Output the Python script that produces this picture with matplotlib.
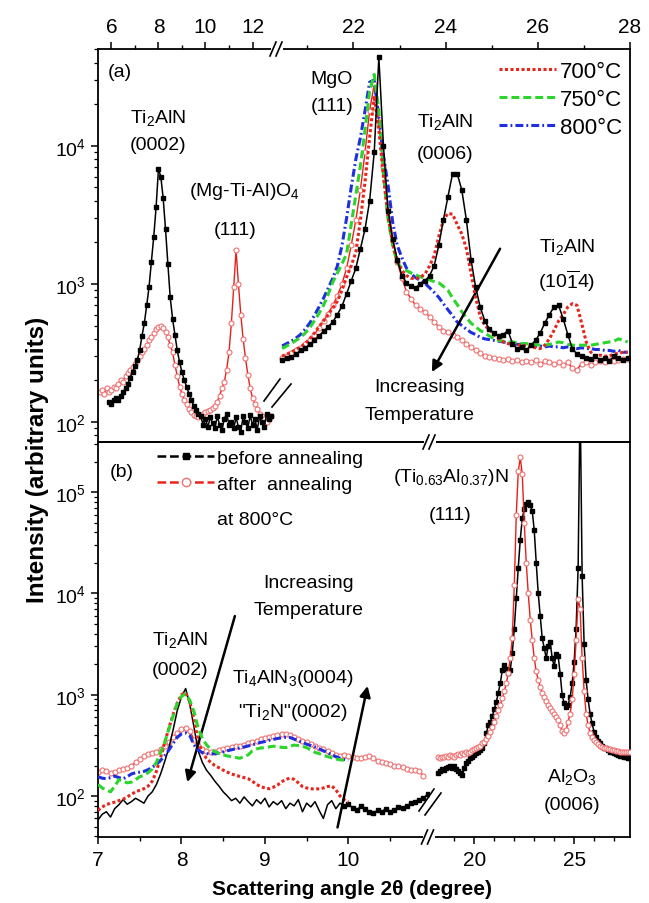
import numpy as np
import matplotlib
matplotlib.use('Agg')
import matplotlib.pyplot as plt
from matplotlib.lines import Line2D
from matplotlib.ticker import LogLocator, NullFormatter, FixedLocator

plt.rcParams['font.family'] = ['Liberation Sans', 'DejaVu Sans']
plt.rcParams['mathtext.fontset'] = 'custom'
plt.rcParams['mathtext.rm'] = 'Liberation Sans'
plt.rcParams['mathtext.it'] = 'Liberation Sans:italic'
plt.rcParams['mathtext.bf'] = 'Liberation Sans:bold'

# ---------------- (a) low-angle window, 2theta = 5.5 ... 12.8
tth_a1 = np.linspace(5.5, 12.8, 74)
a1_after = [165, 170, 160, 175, 165, 170, 180, 175, 190, 200,
            195, 215, 225, 240, 250, 265, 280, 300, 320, 340,
            360, 390, 410, 440, 470, 490, 500, 480, 450, 410,
            360, 320, 260, 215, 180, 160, 145, 135, 125, 118,
            112, 110, 108, 112, 115, 118, 120, 122, 126, 130,
            140, 155, 175, 195, 240, 320, 520, 950, 1750, 1000,
            600, 400, 290, 220, 175, 150, 135, 125, 115, 110,
            105, 100, 105, 110]
# before annealing starts at 5.9
a1_before = [140, 135, 145, 150, 145, 155, 165, 175, 190, 210,
             230, 255, 280, 330, 420, 520, 700, 950, 1450, 2200,
             3600, 6800, 6000, 4200, 2500, 1400, 800, 560, 430, 330,
             270, 230, 200, 180, 160, 145, 130, 122, 115, 110,
             95, 105, 92, 108, 98, 90, 110, 95, 88, 105,
             115, 95, 100, 90, 108, 92, 85, 110, 100, 90,
             112, 95, 105, 88, 110, 100, 92, 115, 105, 110]

# ---------------- (a) high-angle window, 2theta = 20.45 ... 27.95
tth_a2 = np.linspace(20.45, 27.95, 76)
a2_before = [280, 290, 295, 310, 330, 345, 365, 390, 420, 455,
             490, 530, 600, 690, 850, 1050, 1300, 1800, 2500, 4000,
             9000, 44000, 10000, 3400, 2100, 1500, 1150, 1020, 960, 940,
             1000, 1050, 1150, 1350, 1900, 2900, 4300, 6300, 6300, 4800,
             2900, 1500, 950, 680, 540, 470, 440, 420, 430, 460,
             370, 340, 350, 330, 360, 390, 440, 520, 600, 680,
             700, 560, 430, 340, 310, 300, 290, 285, 300, 280,
             290, 275, 300, 290, 280, 290]
a2_700 = [300, 310, 320, 335, 350, 370, 400, 440, 490, 540,
          600, 670, 750, 900, 1120, 1350, 1700, 2900, 5500, 11500,
          23000, 13000, 6000, 3100, 1950, 1450, 1250, 1150, 1100, 1090,
          1120, 1180, 1350, 1600, 2200, 2900, 3250, 3200, 2700, 2300,
          1800, 1200, 800, 580, 500, 465, 430, 400, 380, 370,
          360, 365, 355, 360, 350, 345, 340, 360, 400, 460,
          540, 600, 680, 720, 700, 520, 380, 320, 300, 305,
          300, 300, 310, 315, 320, 320]
a2_750 = [340, 355, 370, 390, 410, 440, 480, 540, 610, 700,
          840, 1030, 1200, 1400, 1650, 2700, 4400, 7200, 13000, 25000,
          33000, 18000, 6200, 2950, 1900, 1420, 1300, 1250, 1200, 1160,
          1130, 1100, 1070, 1040, 1020, 960, 900, 790, 710, 630,
          570, 520, 490, 460, 440, 420, 400, 390, 385, 380,
          380, 375, 370, 370, 365, 365, 360, 360, 365, 370,
          380, 375, 365, 360, 360, 360, 360, 360, 365, 370,
          375, 380, 385, 400, 390, 380]
a2_800 = [355, 370, 385, 405, 430, 470, 520, 590, 680, 790,
          930, 1100, 1350, 1900, 3000, 5000, 8000, 11500, 18000, 29000,
          30000, 16000, 8500, 5200, 2800, 1900, 1550, 1300, 1180, 1110,
          1060, 1010, 940, 870, 800, 720, 650, 590, 530, 500,
          470, 445, 430, 410, 400, 395, 390, 385, 380, 375,
          370, 365, 365, 360, 360, 355, 355, 350, 355, 350,
          350, 345, 350, 345, 340, 345, 340, 340, 335, 335,
          330, 330, 325, 330, 320, 320]
a2_after = [290, 300, 315, 330, 345, 365, 390, 430, 480, 540,
            610, 700, 820, 1000, 1300, 1900, 2900, 4800, 9000, 18000,
            28000, 15000, 7000, 3600, 2200, 1450, 1100, 880, 780, 700,
            660, 630, 580, 530, 490, 460, 445, 430, 410, 390,
            370, 350, 330, 315, 300, 295, 290, 285, 280, 285,
            275, 280, 270, 275, 270, 280, 265, 275, 270, 265,
            270, 260, 270, 245, 240, 265, 270, 260, 270, 275,
            270, 280, 275, 280, 285, 285]

# ---------------- (b) low-angle window, 2theta = 7.00 ... 10.95
tth_b1 = np.linspace(7.0, 10.95, 80)
b1_before = [58, 66, 70, 62, 75, 82, 92, 83, 88, 95,
             90, 85, 100, 110, 130, 165, 220, 300, 450, 700,
             950, 1150, 800, 480, 280, 215, 180, 160, 140, 125,
             110, 100, 90, 95, 85, 98, 88, 80, 92, 84,
             95, 78, 88, 82, 90, 75, 85, 80, 92, 70,
             85, 78, 88, 72, 60, 82, 90, 75, 85, 80,
             84, 76, 72, 80, 74, 70, 68, 72, 70, 75,
             70, 73, 78, 76, 80, 85, 88, 92, 95, 105]
b1_700 = [72, 78, 82, 85, 87, 90, 93, 98, 104, 110,
          114, 118, 125, 140, 175, 240, 340, 470, 640, 830,
          1000, 1050, 850, 570, 350, 270, 235, 215, 200, 190,
          180, 172, 165, 160, 156, 152, 148, 140, 130, 124,
          120, 118, 122, 128, 138, 146, 150, 146, 135, 124,
          120, 118, 117, 118, 120, 124, 126, 115, 100, 92,
          87]
b1_750 = [130, 120, 115, 110, 125, 145, 140, 135, 137, 145,
          155, 160, 170, 185, 215, 270, 340, 460, 620, 820,
          960, 1020, 880, 680, 470, 370, 320, 290, 275, 262,
          255, 248, 245, 240, 236, 245, 255, 280, 292, 298,
          300, 305, 310, 308, 302, 300, 310, 318, 315, 310,
          300, 285, 270, 262, 252, 245, 238, 232, 228, 225]
b1_800 = [155, 150, 148, 152, 157, 152, 148, 155, 165, 170,
          172, 175, 182, 192, 205, 225, 250, 285, 330, 380,
          410, 420, 395, 320, 285, 268, 262, 260, 262, 266,
          272, 280, 286, 292, 298, 305, 312, 320, 330, 338,
          345, 355, 362, 370, 375, 380, 378, 365, 350, 338,
          325, 315, 305, 292, 280, 268, 255, 245, 236, 230,
          225]
b1_after = [172, 182, 178, 168, 172, 180, 186, 190, 200, 215,
            230, 248, 258, 265, 275, 290, 310, 340, 380, 420,
            455, 470, 440, 360, 310, 290, 278, 272, 275, 282,
            292, 300, 305, 310, 315, 320, 330, 340, 350, 362,
            372, 382, 392, 400, 405, 410, 400, 385, 368, 352,
            338, 325, 312, 300, 292, 280, 268, 256, 250, 252,
            248, 242, 236, 235, 245, 250, 238, 222, 215, 212,
            205, 200, 196, 192, 186, 182, 180, 176, 158]

# ---------------- (b) high-angle window, 2theta = 18.2 ... 27.8
tth_b2 = np.linspace(18.2, 27.8, 97)
b2_before = [170, 175, 185, 180, 190, 195, 200, 190, 200, 185,
             175, 170, 160, 190, 210, 220, 235, 245, 255, 265,
             275, 285, 300, 330, 420, 500, 540, 620, 720, 850,
             1050, 1300, 1750, 1950, 1800, 1650, 1750, 2600, 4500, 9000,
             18000, 34000, 55000, 68000, 76000, 80000, 75000, 65000, 42000, 20000,
             10000, 6000, 3600, 2900, 2300, 3000, 3300, 2300, 1900, 2500,
             2400, 1600, 1000, 820, 760, 800, 950, 1300, 2100, 4500,
             18000, 900000, 15000, 3200, 1400, 900, 650, 520, 430, 380,
             350, 330, 315, 300, 295, 285, 275, 270, 265, 260,
             255, 250, 248, 245, 240, 238, 235]
b2_after = [240, 235, 245, 240, 250, 245, 255, 250, 245, 255,
            260, 255, 265, 260, 270, 265, 275, 285, 290, 300,
            305, 315, 330, 345, 365, 390, 430, 480, 540, 610,
            700, 800, 920, 1080, 1300, 1650, 2300, 3600, 12000, 60000,
            160000, 220000, 150000, 50000, 20000, 10000, 5500, 3500, 2300, 1700,
            1400, 1200, 1050, 950, 860, 800, 740, 690, 640, 600,
            560, 500, 440, 420, 450, 540, 650, 900, 1600, 3500,
            8800, 7000, 2300, 1100, 650, 500, 420, 380, 355, 340,
            325, 315, 305, 300, 295, 290, 290, 285, 285, 280,
            280, 275, 275, 275, 270, 270, 270]

# line styles
BLACK_SQ = dict(color='k', lw=1.1, marker='s', ms=3.0, mec='k', mfc='k')
RED_O = dict(color='#e4221b', lw=1.0, marker='o', ms=3.6, mfc='white', mec='#f07070', mew=0.8)
RED_DOT = dict(color='#e8251c', lw=2.2, ls=(0, (1, 0.8)))
GREEN = dict(color='#2bd52b', lw=2.2, ls=(0, (2.6, 1.3)))
BLUE = dict(color='#1f2fe0', lw=2.2, ls=(0, (2.6, 1.0, 0.6, 1.0)))

fig = plt.figure(figsize=(6.49, 9.04), dpi=100)
W, H = 649.0, 904.0


def axes_px(x0, y0, x1, y1):
    ax = fig.add_axes([x0 / W, 1 - y1 / H, (x1 - x0) / W, (y1 - y0) / H])
    ax.set_facecolor('none')
    ax.set_yscale('log')
    for s in ax.spines.values():
        s.set_linewidth(1.3)
    return ax


def fig_line(xs, ys, **kw):
    fig.add_artist(Line2D([x / W for x in xs], [1 - y / H for y in ys],
                          transform=fig.transFigure, **kw))


def spine_break(x, y):
    fig_line([x - 6, x + 6], [y, y], color='white', lw=3, solid_capstyle='butt')
    fig_line([x - 7, x - 1], [y + 7, y - 7], color='k', lw=1.2)
    fig_line([x - 1, x + 5], [y + 7, y - 7], color='k', lw=1.2)


ax_a1 = axes_px(98, 50, 277, 443)
ax_a2 = axes_px(277, 50, 630, 443)
ax_b1 = axes_px(98, 443, 428.5, 838)
ax_b2 = axes_px(428.5, 443, 630, 838)

# panel (a)
ax_a1.plot(tth_a1, a1_after, zorder=2, **RED_O)
ax_a1.plot(tth_a1[4:], a1_before, zorder=3, **BLACK_SQ)

ax_a2.plot(tth_a2, a2_after, zorder=1, **RED_O)
l800, = ax_a2.plot(tth_a2, a2_800, zorder=2, **BLUE)
l750, = ax_a2.plot(tth_a2, a2_750, zorder=3, **GREEN)
l700, = ax_a2.plot(tth_a2, a2_700, zorder=4, **RED_DOT)
ax_a2.plot(tth_a2, a2_before, zorder=5, **BLACK_SQ)

# panel (b)
ax_b1.plot(tth_b1[:79], b1_after, zorder=1, **RED_O)
ax_b1.plot(tth_b1, b1_before, color='k', lw=1.1, marker='s', ms=3.0,
           markevery=slice(59, None), zorder=2)
ax_b1.plot(tth_b1[:61], b1_700, zorder=3, **RED_DOT)
ax_b1.plot(tth_b1[:61], b1_800, zorder=4, **BLUE)
ax_b1.plot(tth_b1[:60], b1_750, zorder=5, **GREEN)

ax_b2.plot(tth_b2, b2_before, zorder=2, **BLACK_SQ)
ax_b2.plot(tth_b2, b2_after, zorder=3, **RED_O)

# axes limits and ticks
ax_a1.set_xlim(5.43, 13.04)
ax_a2.set_xlim(20.34, 28.0)
ax_b1.set_xlim(7.0, 10.96)
ax_b2.set_xlim(17.7, 27.8)
for ax in (ax_a1, ax_a2):
    ax.set_ylim(71.6, 50400)
for ax in (ax_b1, ax_b2):
    ax.set_ylim(39.4, 312000)

ax_a1.xaxis.set_major_locator(FixedLocator([6, 8, 10, 12]))
ax_a1.xaxis.set_minor_locator(FixedLocator([7, 9, 11]))
ax_a2.xaxis.set_major_locator(FixedLocator([22, 24, 26, 28]))
ax_a2.xaxis.set_minor_locator(FixedLocator([21, 23, 25, 27]))
ax_b1.xaxis.set_major_locator(FixedLocator([7, 8, 9, 10]))
ax_b1.xaxis.set_minor_locator(FixedLocator([7.5, 8.5, 9.5, 10.5]))
ax_b2.xaxis.set_major_locator(FixedLocator([20, 25]))
ax_b2.xaxis.set_minor_locator(FixedLocator([19, 21, 22, 23, 24, 26, 27]))

for ax in (ax_a1, ax_a2):
    ax.tick_params(axis='x', which='both', top=True, bottom=False,
                   labeltop=True, labelbottom=False, direction='out')
for ax in (ax_b1, ax_b2):
    ax.tick_params(axis='x', which='both', top=False, bottom=True,
                   labeltop=False, labelbottom=True, direction='out')
for ax in (ax_a1, ax_a2, ax_b1, ax_b2):
    ax.tick_params(axis='x', which='major', length=5, width=1.1, labelsize=15, pad=4)
    ax.tick_params(axis='x', which='minor', length=3, width=1.0)

for ax in (ax_a1, ax_b1):
    ax.spines['right'].set_visible(False)
    ax.yaxis.set_major_locator(LogLocator(base=10, numticks=10))
    ax.yaxis.set_minor_locator(LogLocator(base=10, subs=np.arange(2, 10), numticks=20))
    ax.yaxis.set_minor_formatter(NullFormatter())
    ax.tick_params(axis='y', which='both', left=True, right=False, direction='out')
    ax.tick_params(axis='y', which='major', length=5, width=1.1, labelsize=14, pad=4)
    ax.tick_params(axis='y', which='minor', length=3, width=0.9)
for ax in (ax_a2, ax_b2):
    ax.spines['left'].set_visible(False)
    ax.tick_params(axis='y', which='both', left=False, right=False,
                   labelleft=False, labelright=False)

# broken-axis marks
spine_break(277, 50)
spine_break(430, 443)
spine_break(428.5, 838)
fig_line([264, 280], [402, 380], color='k', lw=1.2)
fig_line([272, 291], [408, 385], color='k', lw=1.2)
fig_line([419, 434], [812, 790], color='k', lw=1.2)
fig_line([425, 441], [816, 794], color='k', lw=1.2)

ann = dict(fontsize=14, ha='center', va='center')
arrow = dict(arrowstyle='-|>', color='k', lw=1.8, mutation_scale=16, shrinkA=0, shrinkB=0)

# labels in (a)
ax_a1.text(5.85, 34900, '(a)', fontsize=14, ha='left', va='center')
ax_a1.text(7.98, 16200, r'Ti$_\mathregular{2}$AlN', **ann)
ax_a1.text(7.98, 10200, '(0002)', **ann)
ax_a1.text(11.68, 4720, r'(Mg-Ti-Al)O$_\mathregular{4}$', **ann)
ax_a1.text(11.26, 2500, '(111)', **ann)
ax_a2.text(21.53, 30600, 'MgO', **ann)
ax_a2.text(21.53, 19500, '(111)', **ann)
ax_a2.text(23.98, 15200, r'Ti$_\mathregular{2}$AlN', **ann)
ax_a2.text(23.98, 8750, '(0006)', **ann)
ax_a2.text(26.63, 1880, r'Ti$_\mathregular{2}$AlN', **ann)
ax_a2.text(26.63, 1070, r'(10$\mathregular{\overline{1}}$4)', **ann)
ax_a2.text(23.44, 182, 'Increasing', **ann)
ax_a2.text(23.44, 114, 'Temperature', **ann)
ax_a2.annotate('', xy=(23.7, 230), xytext=(25.18, 1800), arrowprops=arrow)

ax_a2.legend([l700, l750, l800], ['700°C', '750°C', '800°C'],
             loc='upper right', bbox_to_anchor=(0.977, 0.969), frameon=False,
             fontsize=16, handlelength=2.6, handletextpad=0.15,
             labelspacing=0.3, borderpad=0, borderaxespad=0)

# labels in (b)
ax_b1.text(7.14, 161000, '(b)', fontsize=14, ha='left', va='center')
ax_b1.text(9.52, 12900, 'Increasing', **ann)
ax_b1.text(9.52, 7000, 'Temperature', **ann)
ax_b1.text(7.98, 3540, r'Ti$_\mathregular{2}$AlN', **ann)
ax_b1.text(7.98, 1790, '(0002)', **ann)
ax_b1.text(9.33, 1490, r'Ti$_\mathregular{4}$AlN$_\mathregular{3}$(0004)', **ann)
ax_b1.text(9.33, 690, r'"Ti$_\mathregular{2}$N"(0002)', **ann)
ax_b1.annotate('', xy=(8.07, 137), xytext=(8.64, 5970), arrowprops=arrow)
ax_b1.annotate('', xy=(10.23, 1220), xytext=(9.87, 49), arrowprops=arrow)
ax_b2.text(18.8, 144000, r'(Ti$_\mathregular{0.63}$Al$_\mathregular{0.37}$)N', **ann)
ax_b2.text(18.8, 60700, '(111)', **ann)
ax_b2.text(24.9, 157, r'Al$_\mathregular{2}$O$_\mathregular{3}$', **ann)
ax_b2.text(24.9, 83, '(0006)', **ann)

h_before = Line2D([], [], color='k', lw=1.8, ls=(0, (3.5, 1.5)), marker='s', ms=5)
h_after = Line2D([], [], color='#e8251c', lw=1.8, ls=(0, (3.5, 1.5)), marker='o', ms=6,
                 mfc='white', mec='#f07070')
ax_b1.legend([h_before, h_after], ['before annealing', 'after  annealing'],
             loc='upper left', bbox_to_anchor=(0.18, 0.982), frameon=False,
             fontsize=14, handlelength=2.9, handletextpad=0.15, numpoints=1,
             labelspacing=0.45, borderpad=0, borderaxespad=0)
ax_b1.text(8.42, 54100, 'at 800°C', fontsize=14, ha='left', va='center')

fig.text(38 / W, 1 - 460 / H, 'Intensity (arbitrary units)', rotation=90,
         fontsize=17.5, fontweight='bold', ha='center', va='center')
fig.text(352 / W, 1 - 890 / H, 'Scattering angle 2θ (degree)',
         fontsize=15, fontweight='bold', ha='center', va='center')

fig.savefig('out.png', dpi=100)
